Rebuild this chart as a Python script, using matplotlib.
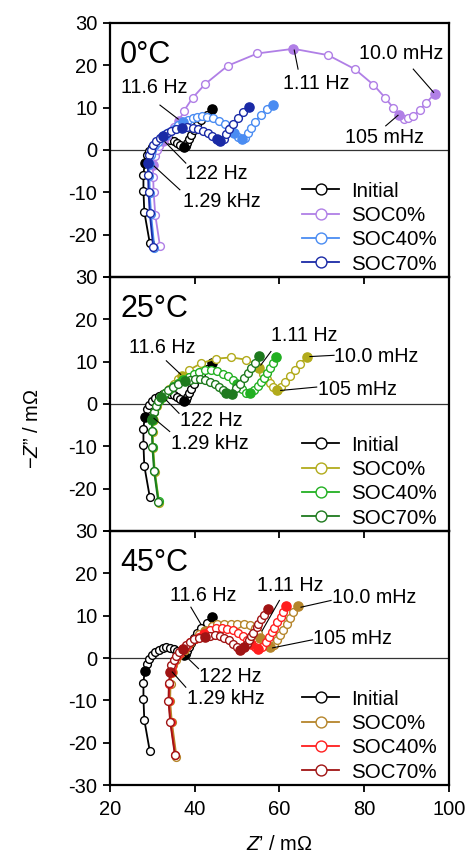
import matplotlib
matplotlib.use("Agg")
import matplotlib.pyplot as plt

plt.rcParams['font.family'] = ['Liberation Sans', 'DejaVu Sans']
plt.rcParams['axes.unicode_minus'] = False
plt.rcParams['mathtext.fontset'] = 'custom'
plt.rcParams['mathtext.rm'] = 'Liberation Sans'
plt.rcParams['mathtext.it'] = 'Liberation Sans:italic'

# ---------------- data (Z' / mOhm, -Z'' / mOhm) ----------------
series_labels = ["Initial", "SOC0%", "SOC40%", "SOC70%"]
temperatures = ["0°C", "25°C", "45°C"]

initial_x = [29.4, 28.1, 27.9, 27.9, 28.2, 28.7, 29.3, 30.0, 30.7, 31.5, 32.4, 33.3, 34.2, 35.0,
             35.8, 36.6, 37.4, 37.9, 38.3, 38.7, 39.2, 39.8, 40.6, 41.6, 42.8, 44.2]
initial_y = [-22.0, -14.6, -9.6, -5.8, -3.0, -1.3, -0.2, 0.7, 1.4, 1.9, 2.3, 2.5, 2.4, 2.1,
             1.6, 1.1, 0.6, 0.9, 1.6, 2.5, 3.6, 4.8, 5.9, 7.0, 8.2, 9.6]
initial_filled = [4, 16, 25]

# 0 degC
soc0_0c_x = [31.8, 30.7, 30.3, 30.2, 30.1, 30.6, 31.0, 31.6, 32.6, 33.4, 34.3, 35.2, 36.3, 37.5, 39.5,
             42.5, 47.8, 54.8, 63.3, 71.5, 77.8, 82.2, 85.0, 86.9, 88.2, 89.3, 90.4, 91.6, 93.1, 94.5, 96.7]
soc0_0c_y = [-22.7, -15.4, -9.9, -6.4, -3.6, -1.4, -0.1, 0.9, 2.1, 3.3, 4.5, 5.4, 6.9, 9.3, 12.3,
             15.6, 19.9, 22.8, 23.9, 22.4, 19.1, 15.4, 12.3, 9.9, 8.3, 7.4, 7.5, 8.0, 9.4, 11.0, 13.3]
soc0_0c_filled = [4, 8, 12, 18, 24, 30]

soc40_0c_x = [30.5, 29.7, 29.4, 29.3, 29.3, 29.6, 30.0, 30.6, 31.3, 32.1, 33.0, 34.0, 35.0, 36.1, 37.3,
              38.4, 39.5, 40.6, 41.8, 43.0, 44.4, 45.8, 47.1, 48.3, 49.3, 50.3, 51.1, 51.9, 52.6, 53.3,
              54.2, 55.6, 57.0, 58.4]
soc40_0c_y = [-23.2, -15.2, -10.2, -6.2, -3.2, -1.3, 0.0, 1.1, 2.0, 2.8, 3.5, 4.3, 5.0, 5.8, 6.6,
              7.1, 7.5, 7.8, 8.0, 7.8, 7.5, 6.9, 6.1, 5.1, 4.1, 3.1, 2.5, 2.9, 3.9, 5.1,
              6.5, 8.3, 9.6, 10.6]
soc40_0c_filled = [4, 10, 14, 24, 26, 33]

soc70_0c_x = [30.2, 29.4, 29.1, 29.0, 28.9, 29.2, 29.6, 30.2, 30.9, 31.7, 32.6, 33.5, 34.5, 35.6, 36.9,
              38.3, 39.7, 40.8, 42.0, 43.2, 44.2, 45.2, 46.0, 46.8, 47.5, 48.1, 49.1, 50.3, 51.5, 52.9]
soc70_0c_y = [-23.0, -15.0, -10.0, -6.0, -3.0, -1.2, 0.1, 1.2, 2.1, 2.8, 3.4, 4.0, 4.5, 4.9, 5.3,
              5.4, 5.1, 4.9, 4.5, 3.9, 3.3, 2.6, 2.1, 2.6, 3.7, 4.9, 6.1, 7.5, 9.0, 10.2]
soc70_0c_filled = [4, 10, 14, 21, 22, 29]

# 25 degC
soc0_25c_x = [31.6, 30.6, 30.2, 30.1, 30.1, 30.5, 31.0, 31.6, 32.3, 33.1, 34.0, 35.0, 36.0, 36.9, 38.6,
              41.5, 45.0, 48.6, 52.0, 54.3, 55.2, 56.2, 57.0, 57.8, 58.6, 59.5, 60.4, 61.4, 62.4, 63.6,
              64.9, 66.5]
soc0_25c_y = [-23.3, -16.0, -10.3, -6.5, -3.8, -2.0, -0.5, 0.6, 1.6, 2.6, 3.6, 4.7, 5.8, 6.6, 8.0,
              9.6, 10.7, 11.0, 10.5, 9.5, 8.4, 7.2, 6.0, 4.9, 4.0, 3.4, 4.0, 5.3, 6.6, 8.0,
              9.5, 11.2]
soc0_25c_filled = [4, 8, 13, 20, 25, 31]

soc40_25c_x = [31.5, 30.5, 30.1, 30.0, 30.0, 30.4, 30.9, 31.5, 32.2, 33.0, 33.9, 34.9, 36.0, 37.3, 38.7,
               39.8, 41.1, 42.4, 43.8, 45.2, 46.6, 47.9, 49.1, 50.1, 51.1, 52.1, 53.0, 54.0, 55.0, 55.6,
               56.3, 57.1, 57.8, 58.5, 59.3]
soc40_25c_y = [-23.0, -15.8, -10.2, -6.4, -3.7, -1.9, -0.5, 0.6, 1.6, 2.5, 3.4, 4.3, 5.0, 5.6, 6.3,
               7.0, 7.6, 8.0, 8.1, 7.8, 7.2, 6.6, 5.6, 4.7, 3.5, 2.6, 2.5, 3.2, 4.3, 5.3,
               6.2, 7.4, 8.6, 9.8, 11.1]
soc40_25c_filled = [4, 8, 13, 23, 26, 34]

soc70_25c_x = [31.4, 30.4, 30.0, 29.9, 29.9, 30.3, 30.8, 31.4, 32.1, 32.9, 33.8, 34.8, 36.0, 37.6, 38.9,
               40.1, 41.3, 42.5, 43.6, 44.7, 45.7, 46.6, 47.5, 48.7, 49.7, 50.7, 51.6, 52.6, 53.4, 54.2,
               55.2]
soc70_25c_y = [-23.2, -15.9, -10.2, -6.4, -3.6, -1.8, -0.4, 0.7, 1.7, 2.6, 3.3, 4.0, 4.7, 5.4, 5.7,
               5.9, 5.9, 5.7, 5.3, 4.7, 4.0, 3.3, 2.7, 2.3, 3.7, 4.8, 6.1, 7.4, 8.6, 9.8,
               11.3]
soc70_25c_filled = [4, 8, 13, 22, 23, 30]

# 45 degC
soc0_45c_x = [35.7, 34.6, 34.2, 34.3, 34.6, 34.9, 35.6, 36.1, 36.7, 37.5, 38.2, 39.0, 40.1, 41.1, 42.4,
              44.0, 45.3, 46.9, 48.5, 50.1, 51.6, 53.0, 54.2, 54.9, 55.4, 56.3, 57.1, 57.8, 58.7, 59.5,
              60.1, 60.9, 61.7, 62.5, 63.3, 64.4]
soc0_45c_y = [-23.3, -15.1, -10.2, -6.1, -3.3, -1.7, -0.5, 0.4, 1.2, 2.0, 2.8, 3.5, 4.6, 5.6, 6.4,
              7.5, 8.0, 8.1, 8.1, 8.1, 8.0, 7.7, 7.2, 6.0, 4.7, 3.8, 3.0, 2.6, 3.0, 4.3,
              5.4, 6.7, 8.1, 9.5, 10.9, 12.2]
soc0_45c_filled = [4, 9, 14, 24, 27, 35]

soc40_45c_x = [35.4, 34.3, 33.9, 34.0, 34.3, 34.6, 35.2, 35.8, 36.5, 37.3, 38.1, 39.0, 40.0, 41.0, 42.2,
               43.5, 45.0, 46.4, 47.7, 49.0, 50.3, 51.5, 52.4, 53.4, 54.2, 55.0, 55.9, 56.8, 57.6, 58.2,
               58.7, 59.5, 60.3, 60.9, 61.5]
soc40_45c_y = [-23.0, -15.1, -10.2, -6.1, -3.3, -1.8, -0.6, 0.4, 1.3, 2.1, 2.9, 3.7, 4.4, 5.0, 5.7,
               6.5, 7.0, 7.1, 6.9, 6.6, 5.9, 5.1, 4.3, 3.4, 2.6, 2.2, 2.7, 3.8, 5.0, 6.2,
               7.2, 8.5, 9.7, 10.9, 12.2]
soc40_45c_filled = [4, 9, 14, 23, 25, 34]

soc70_45c_x = [35.3, 34.2, 33.8, 33.9, 34.2, 34.5, 35.1, 35.7, 36.4, 37.2, 38.0, 38.9, 39.9, 41.0, 42.4,
               43.6, 44.9, 46.0, 47.0, 48.0, 49.0, 49.9, 50.7, 51.6, 52.3, 52.9, 53.4, 53.8, 54.6, 55.0,
               55.6, 56.3, 57.4]
soc70_45c_y = [-22.8, -15.0, -10.1, -6.0, -3.2, -1.7, -0.5, 0.5, 1.4, 2.2, 3.0, 3.8, 4.4, 4.8, 5.0,
               5.3, 5.4, 5.2, 4.8, 4.2, 3.4, 2.6, 2.0, 2.5, 3.3, 4.2, 5.1, 5.9, 7.3, 8.1,
               9.1, 10.1, 11.5]
soc70_45c_filled = [4, 9, 14, 22, 23, 32]

colors_0c = ["black", "#B07FE6", "#4A8CF2", "#1A2AA6"]
colors_25c = ["black", "#B2AB1C", "#22B022", "#1E7A1E"]
colors_45c = ["black", "#B5852B", "#FF1E1E", "#A01414"]

xticks = [20, 40, 60, 80, 100]
yticks = [-30, -20, -10, 0, 10, 20, 30]

panels = [
    (temperatures[0], colors_0c,
     [(initial_x, initial_y, initial_filled), (soc0_0c_x, soc0_0c_y, soc0_0c_filled),
      (soc40_0c_x, soc40_0c_y, soc40_0c_filled), (soc70_0c_x, soc70_0c_y, soc70_0c_filled)]),
    (temperatures[1], colors_25c,
     [(initial_x, initial_y, initial_filled), (soc0_25c_x, soc0_25c_y, soc0_25c_filled),
      (soc40_25c_x, soc40_25c_y, soc40_25c_filled), (soc70_25c_x, soc70_25c_y, soc70_25c_filled)]),
    (temperatures[2], colors_45c,
     [(initial_x, initial_y, initial_filled), (soc0_45c_x, soc0_45c_y, soc0_45c_filled),
      (soc40_45c_x, soc40_45c_y, soc40_45c_filled), (soc70_45c_x, soc70_45c_y, soc70_45c_filled)]),
]

# annotation layout per panel: (text, text_xy, ha, leader_start, leader_end)
annots = [
    [("11.6 Hz", (30.4, 14.8), 'center', (31.8, 10.6), (36.1, 7.3)),
     ("1.11 Hz", (68.6, 15.8), 'center', (63.5, 23.6), (64.4, 19.1)),
     ("10.0 mHz", (88.7, 22.8), 'center', (91.6, 19.1), (96.4, 13.6)),
     ("105 mHz", (84.7, 3.0), 'center', (85.1, 5.7), (88.0, 8.2)),
     ("122 Hz", (45.1, -5.5), 'center', (33.0, 1.9), (37.9, -3.1)),
     ("1.29 kHz", (46.4, -12.2), 'center', (30.4, -3.8), (36.5, -9.4))],
    [("11.6 Hz", (32.4, 13.3), 'center', (33.3, 10.2), (36.7, 7.0)),
     ("1.11 Hz", (65.9, 16.1), 'center', (58.0, 12.4), (55.6, 9.2)),
     ("10.0 mHz", (73.0, 11.2), 'left', (67.2, 11.2), (72.9, 11.5)),
     ("105 mHz", (69.2, 3.5), 'left', (60.3, 3.2), (68.8, 4.0)),
     ("122 Hz", (44.0, -4.0), 'center', (33.3, 0.9), (36.3, -2.2)),
     ("1.29 kHz", (43.6, -9.3), 'center', (30.4, -3.4), (34.1, -6.5))],
    [("11.6 Hz", (42.0, 14.8), 'center', (39.1, 12.0), (41.4, 8.1)),
     ("1.11 Hz", (62.5, 17.2), 'center', (60.0, 13.6), (55.9, 6.4)),
     ("10.0 mHz", (72.4, 14.3), 'left', (65.1, 12.0), (72.2, 13.6)),
     ("105 mHz", (68.0, 4.6), 'left', (58.4, 2.4), (67.8, 4.3)),
     ("122 Hz", (48.4, -4.3), 'center', (37.7, 0.6), (40.9, -2.5)),
     ("1.29 kHz", (47.3, -9.6), 'center', (34.7, -3.3), (37.9, -6.9))],
]

fig = plt.figure(figsize=(4.70, 8.57), dpi=100)
left, width, height = 0.234, 0.721, 0.2964
bottoms = [0.6768, 0.3804, 0.0840]

for pi, (temp, cols, data) in enumerate(panels):
    ax = fig.add_axes([left, bottoms[pi], width, height])
    ax.patch.set_alpha(0)
    ax.axhline(0, color='#333333', lw=0.9, zorder=1)
    handles = []
    for si, (xs, ys, filled) in enumerate(data):
        c = cols[si]
        z = 2 + si
        ln, = ax.plot(xs, ys, '-o', color=c, lw=1.3, ms=5.6, mfc='white', mec=c, mew=1.0,
                      zorder=z, label=series_labels[si])
        ax.plot([xs[i] for i in filled], [ys[i] for i in filled], 'o', color=c, ms=6.6,
                mec=c, mfc=c, zorder=z + 0.5)
        handles.append(ln)
    ax.set_xlim(20, 100)
    ax.set_ylim(-30, 30)
    ax.set_xticks(xticks)
    ax.set_yticks(yticks)
    ylabels = [str(v) for v in yticks]
    if pi < 2:
        ylabels[0] = ''
    ax.set_yticklabels(ylabels)
    ax.tick_params(direction='out', length=5, width=1.3, labelsize=14.5, pad=4,
                   top=False, right=False)
    ax.tick_params(axis='x', pad=6)
    if pi < 2:
        ax.tick_params(labelbottom=False)
    for sp in ax.spines.values():
        sp.set_linewidth(1.6)
    ax.text(22.4, 22.5, temp, fontsize=22, ha='left', va='center')
    for txt, txy, ha, p0, p1 in annots[pi]:
        ax.plot([p0[0], p1[0]], [p0[1], p1[1]], color='black', lw=0.8, zorder=10)
        ax.text(txy[0], txy[1], txt, fontsize=14.2, ha=ha, va='center', zorder=11)
    leg = ax.legend(handles=handles, loc='lower right', bbox_to_anchor=(1.0, -0.035),
                    frameon=False, fontsize=14.8, handlelength=1.8, handletextpad=0.55,
                    labelspacing=0.26, markerscale=1.4, borderaxespad=0.2)
    if pi == 2:
        ax.set_xlabel(r"$Z$’ / mΩ", fontsize=14.5, labelpad=11)

fig.text(0.07, 0.5, r"−$Z$” / mΩ", rotation=90, fontsize=14.5, ha='center', va='center')
fig.savefig("out.png", dpi=100)
